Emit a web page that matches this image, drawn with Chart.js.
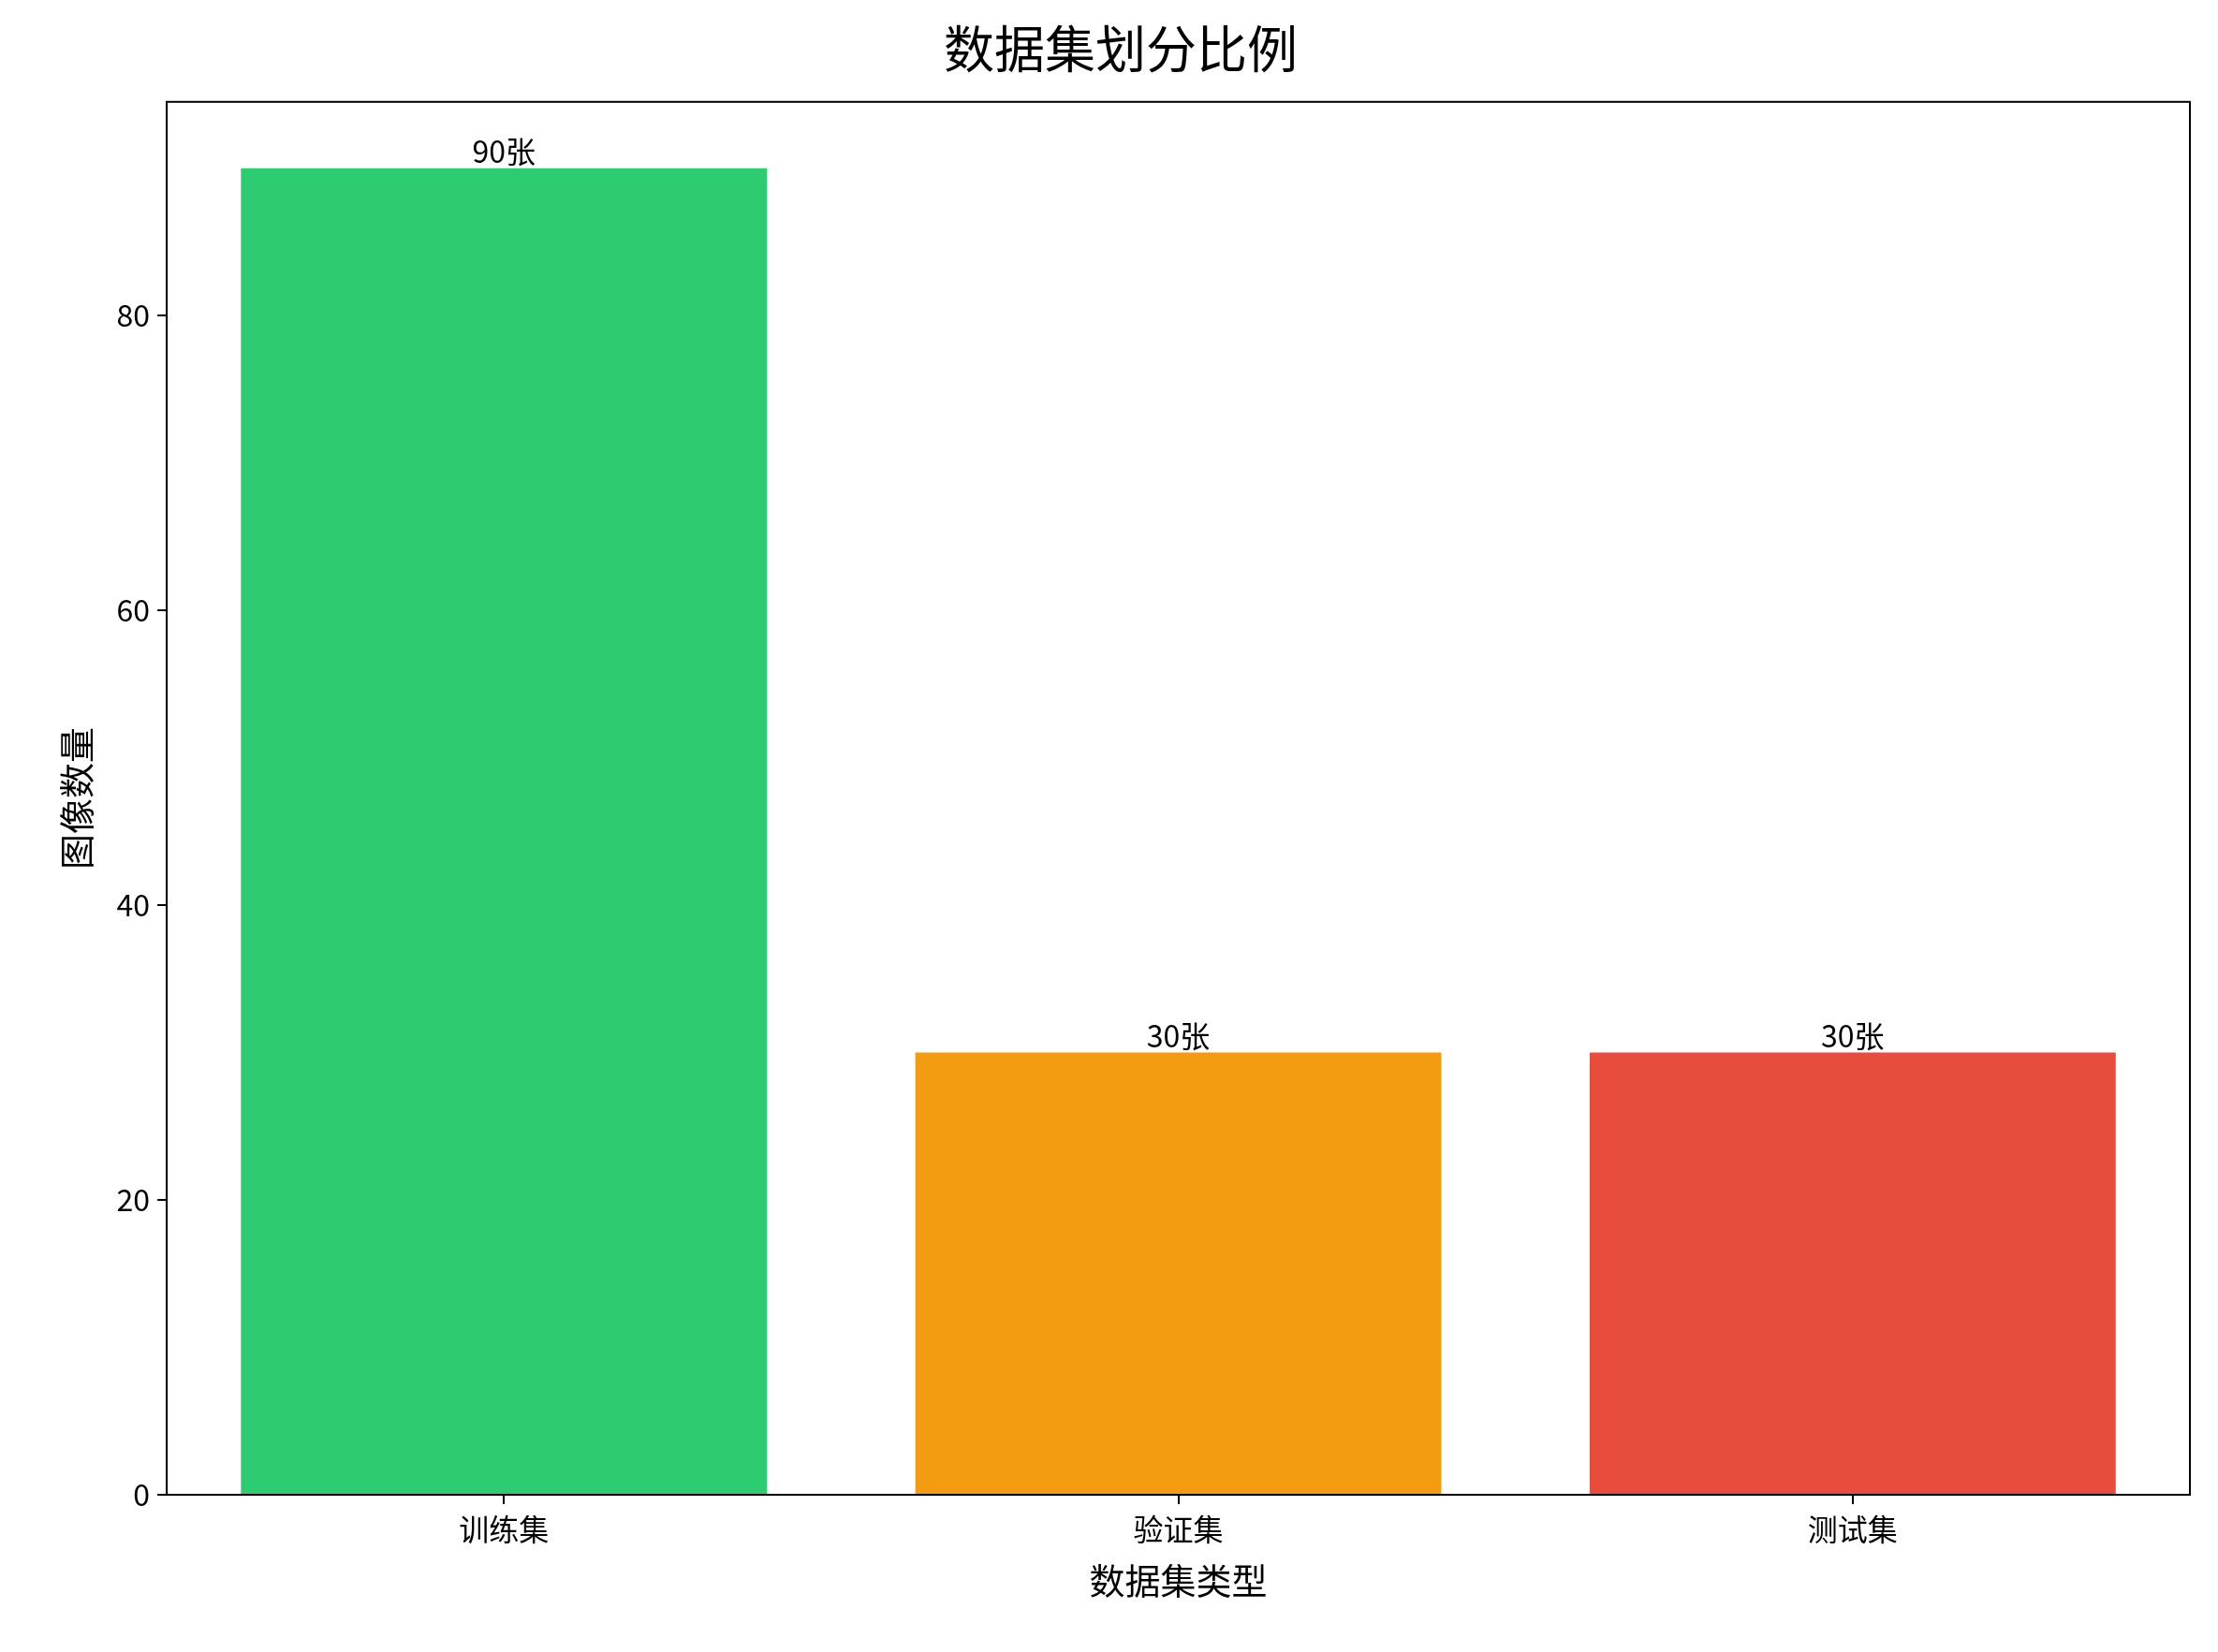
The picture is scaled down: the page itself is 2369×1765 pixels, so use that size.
<!DOCTYPE html>
<html><head><meta charset="utf-8">
<script src="https://cdn.jsdelivr.net/npm/chart.js@4"></script>
<style>html,body{margin:0;padding:0;background:#fff}</style>
</head><body>
<canvas id="c" width="2369" height="1765" style="width:2369px;height:1765px"></canvas>
<script>
const categories = ['训练集','验证集','测试集'];
const values = [90,30,30];
const colors = ['#2ecc71','#f39c12','#e74c3c'];
const valueLabels = ['90张','30张','30张'];
const F = '"Noto Sans CJK SC", "DejaVu Sans", sans-serif';
const labelPlugin = {
  id:'lbl',
  afterDatasetsDraw(chart){
    const ctx=chart.ctx; const meta=chart.getDatasetMeta(0);
    ctx.save(); ctx.font='32px '+F; ctx.fillStyle='#000'; ctx.textAlign='center'; ctx.textBaseline='bottom';
    meta.data.forEach((b,i)=>ctx.fillText(valueLabels[i], b.x, b.y-2));
    ctx.restore();
  }
};
new Chart(document.getElementById('c'),{
  type:'bar',
  data:{labels:categories,datasets:[{data:values,backgroundColor:colors,categoryPercentage:1,barPercentage:0.78}]},
  options:{
    responsive:false, devicePixelRatio:1, animation:false,
    layout:{padding:{left:55,right:30,top:10,bottom:50}},
    plugins:{legend:{display:false},tooltip:{enabled:false},
      title:{display:true,text:'数据集划分比例',font:{family:F,size:54,weight:'normal'},color:'#000',padding:{top:10,bottom:24}}},
    scales:{
      x:{grid:{display:true,offset:false,drawOnChartArea:false,drawTicks:true,tickLength:10,color:'#000',lineWidth:2},
         border:{color:'#000',width:2},
         ticks:{font:{family:F,size:32},color:'#000',padding:8},
         title:{display:true,text:'数据集类型',font:{family:F,size:38},color:'#000',padding:{top:4}}},
      y:{min:0,max:94.5,
         grid:{display:true,drawOnChartArea:false,drawTicks:true,tickLength:10,color:'#000',lineWidth:2},
         border:{color:'#000',width:2},
         ticks:{stepSize:20,font:{family:F,size:32},color:'#000',padding:8,callback:v=>v%20===0?v:null},
         title:{display:true,text:'图像数量',font:{family:F,size:38},color:'#000',padding:{bottom:12}}}
    }
  },
  plugins:[labelPlugin,{id:'frame',afterDraw(c){const a=c.chartArea,x=c.ctx;x.save();x.strokeStyle='#000';x.lineWidth=2;x.strokeRect(a.left,a.top,a.right-a.left,a.bottom-a.top);x.restore();}}]
});
</script>
</body></html>
